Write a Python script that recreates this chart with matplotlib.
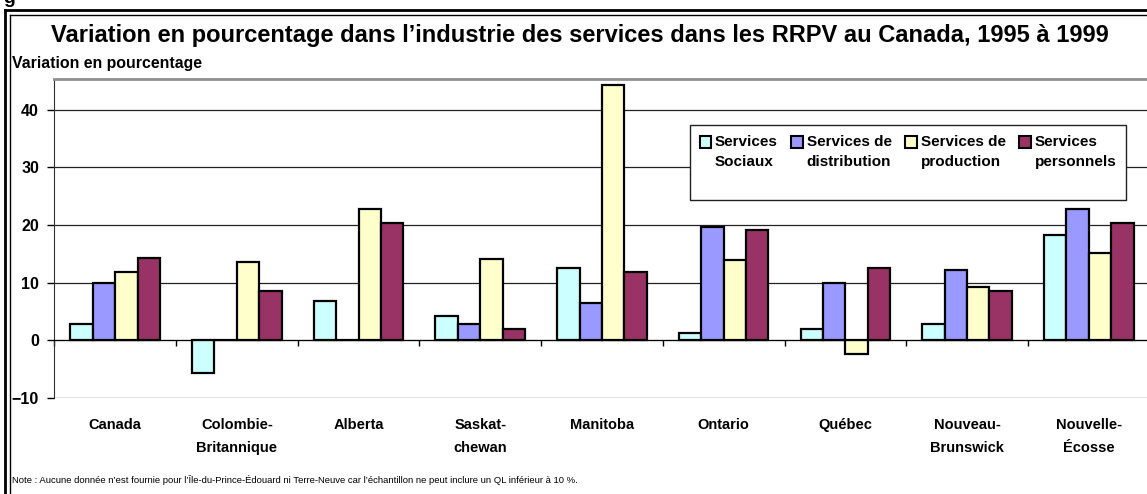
import numpy as np
import matplotlib
matplotlib.use("Agg")
import matplotlib.pyplot as plt
from matplotlib.patches import Patch, Rectangle
from matplotlib.lines import Line2D
from matplotlib.legend_handler import HandlerPatch

plt.rcParams['font.family'] = ['Liberation Sans', 'DejaVu Sans']

regions = ["Canada", "Colombie-\nBritannique", "Alberta", "Saskat-\nchewan",
           "Manitoba", "Ontario", "Québec", "Nouveau-\nBrunswick", "Nouvelle-\nÉcosse"]
series = ["Services\nSociaux\n", "Services de\ndistribution\n",
          "Services de\nproduction\n", "Services\npersonnels\n"]
colors = ["#CCFFFF", "#9999FF", "#FFFFCC", "#993366"]

sociaux = [2.9, -5.7, 6.8, 4.3, 12.5, 1.3, 1.9, 2.9, 18.3]
distribution = [10.0, 0.0, 0.0, 2.8, 6.4, 19.7, 10.0, 12.2, 22.8]
production = [11.8, 13.6, 22.8, 14.2, 44.3, 13.9, -2.4, 9.2, 15.1]
personnels = [14.3, 8.6, 20.3, 1.9, 11.8, 19.2, 12.5, 8.6, 20.3]
values = [sociaux, distribution, production, personnels]

title = "Variation en pourcentage dans l\u2019industrie des services dans les RRPV au Canada, 1995 à 1999"
ylabel = "Variation en pourcentage"
note = ("Note : Aucune donnée n\u2019est fournie pour l\u2019Île-du-Prince-Édouard ni Terre-Neuve "
        "car l\u2019échantillon ne peut inclure un QL inférieur à 10 %.")

W, H = 1147, 494
fig = plt.figure(figsize=(W / 100, H / 100), dpi=100)
ax = fig.add_axes([54.3 / W, 1 - 398 / H, 1095.3 / W, (398 - 79.3) / H])

x = np.arange(len(regions))
bw = 0.184
for i, (vals, c) in enumerate(zip(values, colors)):
    ax.bar(x + (i - 1.5) * bw, vals, bw, color=c, edgecolor="black", linewidth=1.6, zorder=3)

ax.set_xlim(-0.5, len(regions) - 0.5)
ax.set_ylim(-10, 45.3)
ax.set_yticks([-10, 0, 10, 20, 30, 40])
ax.yaxis.grid(True, color="#222222", linewidth=0.9)
ax.set_axisbelow(True)
ax.tick_params(axis="y", direction="out", length=5, width=1, pad=6, labelsize=11.5)
for t in ax.get_yticklabels():
    t.set_fontweight("bold")

ax.spines["bottom"].set_position(("data", 0))
ax.spines["bottom"].set_color("black")
ax.spines["bottom"].set_zorder(4)
ax.spines["left"].set_color("#303030")
ax.spines["top"].set_color("#909090")
ax.spines["top"].set_linewidth(2)
ax.spines["right"].set_visible(False)

ax.set_xticks(x)
ax.set_xticklabels(regions, fontweight="bold", fontsize=10.5, linespacing=1.8)
ax.set_xticks(np.arange(len(regions) + 1) - 0.5, minor=True)
ax.tick_params(axis="x", which="major", length=0, pad=56)
ax.tick_params(axis="x", which="minor", direction="out", length=4, width=1)


def top_patch(legend, orig_handle, xdescent, ydescent, width, height, fontsize):
    return Rectangle((-xdescent, 1.3 * fontsize), width, 0.8 * fontsize)


handles = [Patch(facecolor=c, edgecolor="black", linewidth=1.5) for c in colors]
leg = ax.legend(handles, series, ncol=4, loc="upper left", bbox_to_anchor=(0.58, 0.857),
                frameon=True, fancybox=False, edgecolor="#202020", framealpha=1,
                prop={"weight": "bold", "size": 11}, handlelength=0.75, handleheight=0.8,
                handletextpad=0.25, columnspacing=0.9, borderpad=0.65, borderaxespad=0,
                handler_map={Patch: HandlerPatch(patch_func=top_patch)})
leg.get_frame().set_linewidth(1)
for t in leg.get_texts():
    t.set_linespacing(1.6)

fig.text(580 / W, 1 - 42 / H, title, ha="center", va="baseline", fontsize=17, fontweight="bold")
fig.text(12 / W, 1 - 68 / H, ylabel, ha="left", va="baseline", fontsize=11.4, fontweight="bold")
fig.text(12 / W, 1 - 483 / H, note, ha="left", va="baseline", fontsize=6.8,
         family=["Liberation Sans Narrow", "Liberation Sans"])
fig.text(3 / W, 1 - 3 / H, "g", ha="left", va="baseline", fontsize=14, fontweight="bold")

# double frame on the left and top
for pos, lw in [(4.5, 2), (9.5, 1)]:
    fig.add_artist(Line2D([pos / W, pos / W], [0, 1 - (pos + 5.5) / H], color="black", lw=lw))
    fig.add_artist(Line2D([pos / W, 1], [1 - (pos + 5.5) / H, 1 - (pos + 5.5) / H], color="black", lw=lw))

fig.savefig("out.png", dpi=100)
